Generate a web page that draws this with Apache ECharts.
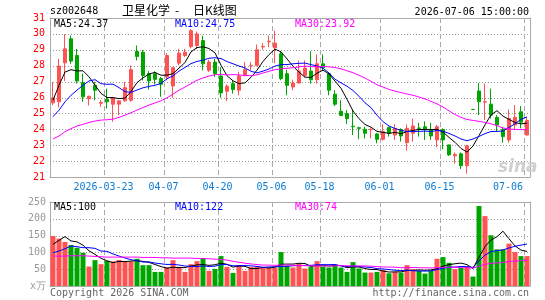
<!DOCTYPE html>
<html>
<head>
<meta charset="utf-8">
<title>卫星化学 日K线图</title>
<script src="https://cdn.jsdelivr.net/npm/echarts@6/dist/echarts.min.js"></script>
<style>
  html, body { margin: 0; padding: 0; background: #fff; }
  #chart { width: 545px; height: 300px; }
</style>
</head>
<body>
<div id="chart"></div>
<script>
// trading days shown on the chart
var dates = [
  '2026-03-10','2026-03-11','2026-03-12','2026-03-13','2026-03-16','2026-03-17','2026-03-18','2026-03-19','2026-03-20',
  '2026-03-23','2026-03-24','2026-03-25','2026-03-26','2026-03-27','2026-03-30','2026-03-31',
  '2026-04-01','2026-04-02','2026-04-03',
  '2026-04-07','2026-04-08','2026-04-09','2026-04-10',
  '2026-04-13','2026-04-14','2026-04-15','2026-04-16','2026-04-17',
  '2026-04-20','2026-04-21','2026-04-22','2026-04-23','2026-04-24',
  '2026-04-27','2026-04-28','2026-04-29','2026-04-30',
  '2026-05-06','2026-05-07','2026-05-08',
  '2026-05-11','2026-05-12','2026-05-13','2026-05-14','2026-05-15',
  '2026-05-18','2026-05-19','2026-05-20','2026-05-21','2026-05-22',
  '2026-05-25','2026-05-26','2026-05-27','2026-05-28','2026-05-29',
  '2026-06-01','2026-06-02','2026-06-03','2026-06-04','2026-06-05',
  '2026-06-08','2026-06-09','2026-06-10','2026-06-11','2026-06-12',
  '2026-06-15','2026-06-16','2026-06-17','2026-06-18',
  '2026-06-22','2026-06-23','2026-06-24','2026-06-25','2026-06-26',
  '2026-06-29','2026-06-30',
  '2026-07-01','2026-07-02','2026-07-03',
  '2026-07-06'
];
// dates that get a label + dashed line
var labelDates = ['2026-03-23','2026-04-07','2026-04-20','2026-05-06','2026-05-18','2026-06-01','2026-06-15','2026-07-06'];
// dotted horizontal grid values
var priceTicks = [22, 23, 24, 25, 26, 27, 28, 29, 30];
var volTicks = [50, 100, 150, 200];

var opens = [25.66,25.73,28.18,29.69,28.64,26.94,25.92,26.77,25.64,25.89, 25.58,25.58,25.79,25.83,28.89,28.85,27.5,27.5,27.19,27.29,
  26.73,28.16,28.64,29.2,29.27,29.58,27.71,28.23,27.35,26.4, 26.87,26.46,27.39,28.0,28.02,29.18,29.5,29.12,28.75,27.5,
  26.66,26.91,27.39,27.66,27.12,28.12,27.5,26.21,25.14,24.99, 24.19,24.1,24.0,23.98,23.71,23.37,24.12,23.64,23.99,23.16,
  23.75,24.08,24.16,23.96,23.33,23.99,23.02,22.33,22.46,21.71, 25.25,26.41,25.71,25.58,24.75,23.99,23.33,24.27,25.1,23.64];
var closes = [25.98,27.98,29.06,28.29,27.04,26.04,26.08,26.46,25.69,25.73, 25.98,25.79,26.62,27.75,28.58,27.39,27.04,27.14,26.83,28.64,
  27.87,28.79,28.85,30.2,30.0,28.12,28.23,27.5,26.29,26.71, 26.5,27.35,27.75,28.02,29.0,29.21,29.54,29.42,27.19,26.77,
  26.91,27.66,27.85,27.12,28.12,27.87,26.46,25.58,24.87,24.68, 24.16,24.06,23.75,24.0,23.37,23.85,23.75,24.06,23.58,24.06,
  24.21,24.06,24.0,23.58,24.16,23.33,22.39,22.42,21.71,22.96, 25.25,25.73,25.73,24.89,24.27,23.54,24.68,24.75,24.45,24.55];
var lows = [25.52,25.37,27.04,28.12,26.87,25.73,25.5,25.83,25.41,25.31, 24.48,24.89,25.73,25.73,28.33,27.08,26.5,26.83,26.04,27.08,
  25.98,28.02,28.54,29.1,29.05,27.71,27.6,27.29,25.98,25.77, 26.25,26.14,27.33,27.71,27.96,29.0,29.16,28.16,27.08,26.14,
  26.46,26.87,27.25,26.87,26.87,27.66,26.14,25.46,24.83,24.33, 23.64,23.37,23.43,23.43,23.12,23.29,23.54,23.33,23.23,22.66,
  23.23,23.54,23.33,23.33,22.87,22.75,22.33,21.83,21.5,21.21, 25.25,24.89,24.58,24.68,23.85,23.16,23.16,23.96,24.06,23.6];
var highs = [26.98,28.43,29.99,29.89,29.06,27.5,26.1,26.98,25.83,26.56, 26.04,25.79,26.98,28.02,29.27,29.0,27.66,27.66,27.29,28.79,
  27.91,29.06,29.06,30.31,30.15,29.89,28.37,28.43,27.91,26.83, 27.08,27.6,28.23,28.23,29.33,29.41,29.89,30.2,28.91,27.75,
  27.12,28.33,28.33,28.91,28.71,28.71,27.6,26.46,25.83,25.21, 25.21,24.16,24.16,24.06,23.75,24.33,24.16,24.33,24.06,24.31,
  24.68,24.41,24.5,24.41,24.27,24.06,23.02,22.54,22.54,23.02, 25.25,26.91,26.87,26.56,24.89,24.16,25.25,25.52,25.46,24.75];
// volume, 万手
var volumes = [149,141,131,122,114,99,58,77,65,75, 73,77,73,73,81,62,62,42,42,56,
  77,57,42,65,74,81,45,51,89,57, 39,62,45,56,58,55,55,55,101,60,
  55,67,52,58,74,58,55,62,55,42, 71,52,40,40,42,48,38,42,40,62,
  50,45,37,45,81,86,69,50,55,58, 28,238,208,151,109,109,126,101,89,89];

// MA values before enough days are on screen
var ma5Lead = [25.83, 26.77, 27.6, 27.75];
var ma10Lead = [24.8, 25.2, 25.73, 26.14, 26.46, 26.77, 27.04, 27.12, 26.87];
var ma30Lead = [23.39,23.58,23.85,24.04,24.21,24.31,24.43,24.52,24.58,24.6, 24.64,24.75,24.89,25.04,25.21,25.37,25.52,25.66,25.79,25.98,
  26.21,26.46,26.66,26.87,27.08,27.23,27.35,27.43,27.46];
var vma5Lead = [124, 136, 147, 134];
var vma10Lead = [99, 104, 111, 119, 117, 114, 114, 112, 104];
var vma30Lead = [89,89,89,90,90,90,89,88,87,86, 86,86,86,86,86,85,85,85,84,84, 83,83,83,83,82,82,81,80,79];

var RED = '#ff5252', GREEN = '#00a600';
var MONO = '"DejaVu Sans Mono", monospace';
var FRAME = '#aaaaaa';

function movingAvg(values, n, lead) {
  return values.map(function (v, i) {
    if (i < lead.length) return lead[i];
    var s = 0;
    for (var k = i - n + 1; k <= i; k++) s += values[k];
    return +(s / n).toFixed(2);
  });
}

function isUp(i) { return closes[i] > opens[i]; }
function isLabelDay(index) { return labelDates.indexOf(dates[index]) >= 0; }

var candleData = dates.map(function (d, i) {
  var c = isUp(i) ? RED : GREEN;
  return {
    value: [opens[i], closes[i], lows[i], highs[i]],
    itemStyle: { color: c, color0: c, borderColor: c, borderColor0: c }
  };
});
var volData = volumes.map(function (v, i) {
  return { value: v, itemStyle: { color: isUp(i) ? RED : GREEN } };
});

function maLine(name, data, color, xi) {
  return {
    name: name, type: 'line', data: data, xAxisIndex: xi, yAxisIndex: xi,
    symbol: 'none', silent: true, z: 6,
    lineStyle: { color: color, width: 1 }
  };
}

// grid lines drawn as custom series (axis splitLine did not show up here)
function hGrid(xi, ticks) {
  return {
    type: 'custom', xAxisIndex: xi, yAxisIndex: xi, silent: true, z: 1, clip: false,
    data: ticks.map(function (v) { return [dates[0], v]; }),
    renderItem: function (params, api) {
      var cs = params.coordSys;
      var y = Math.round(api.coord([api.value(0), api.value(1)])[1]) + 0.5;
      return {
        type: 'line', silent: true,
        shape: { x1: cs.x, y1: y, x2: cs.x + cs.width, y2: y },
        style: { stroke: '#999999', lineWidth: 1, lineDash: [1, 2] }
      };
    }
  };
}
function vGrid(xi, yBase) {
  return {
    type: 'custom', xAxisIndex: xi, yAxisIndex: xi, silent: true, z: 1, clip: false,
    data: labelDates.map(function (d) { return [d, yBase]; }),
    renderItem: function (params, api) {
      var cs = params.coordSys;
      var c = api.coord([api.value(0), api.value(1)]);
      var x = Math.round(c[0] - api.size([1, 0])[0] / 2) + 0.5;
      return {
        type: 'line', silent: true,
        shape: { x1: x, y1: cs.y, x2: x, y2: cs.y + cs.height },
        style: { stroke: '#aaaaaa', lineWidth: 1, lineDash: [5, 3] }
      };
    }
  };
}

function label(x, y, text, color, align, font) {
  return {
    type: 'text', x: x, y: y, silent: true, z: 10,
    style: {
      text: text, fill: color, font: font || ('10px ' + MONO),
      align: align || 'left', textAlign: align || 'left',
      verticalAlign: 'middle', textVerticalAlign: 'middle'
    }
  };
}

// axes that only draw a frame edge
function frameX(grid, pos) {
  return {
    type: 'category', gridIndex: grid, data: dates, boundaryGap: true, position: pos,
    axisLine: { show: true, onZero: false, lineStyle: { color: FRAME, width: 1 } },
    axisTick: { show: false }, axisLabel: { show: false }, splitLine: { show: false }
  };
}
function frameY(grid, pos, min, max) {
  return {
    type: 'value', gridIndex: grid, position: pos, min: min, max: max,
    axisLine: { show: true, onZero: false, lineStyle: { color: FRAME, width: 1 } },
    axisTick: { show: false }, axisLabel: { show: false }, splitLine: { show: false }
  };
}

var chart = echarts.init(document.getElementById('chart'));
var option = {
  animation: false,
  grid: [
    { left: 50, right: 15, top: 18, height: 159 },
    { left: 50, right: 15, top: 202, height: 84 }
  ],
  xAxis: [
    {
      type: 'category', gridIndex: 0, data: dates, boundaryGap: true, position: 'bottom',
      axisLine: { show: true, onZero: false, lineStyle: { color: FRAME, width: 1 } },
      axisTick: { show: false }, splitLine: { show: false },
      axisLabel: {
        interval: isLabelDay, margin: 5, hideOverlap: false,
        formatter: function (v) {
          var t = v === labelDates[0] ? v : v.slice(5);
          return v === labelDates[labelDates.length - 1] ? '{z|' + t + '}' : '{a|' + t + '}';
        },
        rich: {
          a: { color: '#0c7cd5', fontFamily: MONO, fontSize: 10, padding: [0, 7, 0, 0] },
          z: { color: '#0c7cd5', fontFamily: MONO, fontSize: 10, padding: [0, 38, 0, 0] }
        }
      }
    },
    {
      type: 'category', gridIndex: 1, data: dates, boundaryGap: true, position: 'bottom',
      axisLine: { show: true, onZero: false, lineStyle: { color: FRAME, width: 1 } },
      axisTick: { show: false }, axisLabel: { show: false }, splitLine: { show: false }
    },
    frameX(0, 'top'),
    frameX(1, 'top')
  ],
  yAxis: [
    {
      type: 'value', gridIndex: 0, min: 21, max: 31, interval: 1, position: 'left',
      axisLine: { show: true, lineStyle: { color: FRAME, width: 1 } }, axisTick: { show: false },
      axisLabel: { color: '#ff0000', fontFamily: MONO, fontSize: 10, margin: 5 },
      splitLine: { show: false }
    },
    {
      type: 'value', gridIndex: 1, min: 0, max: 250, interval: 50, position: 'left',
      axisLine: { show: true, lineStyle: { color: FRAME, width: 1 } }, axisTick: { show: false },
      axisLabel: {
        color: '#999', fontFamily: MONO, fontSize: 10, margin: 4,
        formatter: function (v) { return v === 0 ? 'x万' : v; }
      },
      splitLine: { show: false }
    },
    frameY(0, 'right', 21, 31),
    frameY(1, 'right', 0, 250)
  ],
  series: [
    hGrid(0, priceTicks),
    vGrid(0, 21),
    hGrid(1, volTicks),
    vGrid(1, 0),
    {
      name: 'K', type: 'candlestick', data: candleData, barWidth: 4,
      xAxisIndex: 0, yAxisIndex: 0, silent: true, z: 5,
      itemStyle: { borderWidth: 1 }
    },
    maLine('MA5', movingAvg(closes, 5, ma5Lead), '#000000', 0),
    maLine('MA10', movingAvg(closes, 10, ma10Lead), '#0000ff', 0),
    maLine('MA30', movingAvg(closes, 30, ma30Lead), '#ff00ff', 0),
    {
      name: 'VOL', type: 'bar', data: volData, barWidth: 5,
      xAxisIndex: 1, yAxisIndex: 1, silent: true, z: 5
    },
    maLine('VMA5', movingAvg(volumes, 5, vma5Lead), '#000000', 1),
    maLine('VMA10', movingAvg(volumes, 10, vma10Lead), '#0000ff', 1),
    maLine('VMA30', movingAvg(volumes, 30, vma30Lead), '#ff00ff', 1)
  ],
  graphic: [
    label(50, 11, 'sz002648', '#000'),
    label(122, 10, '卫星化学', '#000', 'left', '12px "Noto Sans CJK SC"'),
    label(177, 10, '-', '#000', 'center', '12px "Noto Sans CJK SC"'),
    label(193, 10, '日K线图', '#000', 'left', '12px "Noto Sans CJK SC"'),
    label(529, 12, '2026-07-06 15:00:00', '#000', 'right'),
    label(54, 24, 'MA5:24.37', '#000'),
    label(175, 24, 'MA10:24.75', '#0000ff'),
    label(295, 24, 'MA30:23.92', '#ff00ff'),
    label(54, 207, 'MA5:100', '#000'),
    label(175, 207, 'MA10:122', '#0000ff'),
    label(295, 207, 'MA30:74', '#ff00ff'),
    label(498, 168, 'sina', '#d0d0d0', 'left', 'italic bold 17px "DejaVu Sans"'),
    label(50, 293, 'Copyright 2026 SINA.COM', '#666'),
    label(529, 293, 'http://finance.sina.com.cn', '#666', 'right')
  ]
};
chart.setOption(option);
</script>
</body>
</html>
